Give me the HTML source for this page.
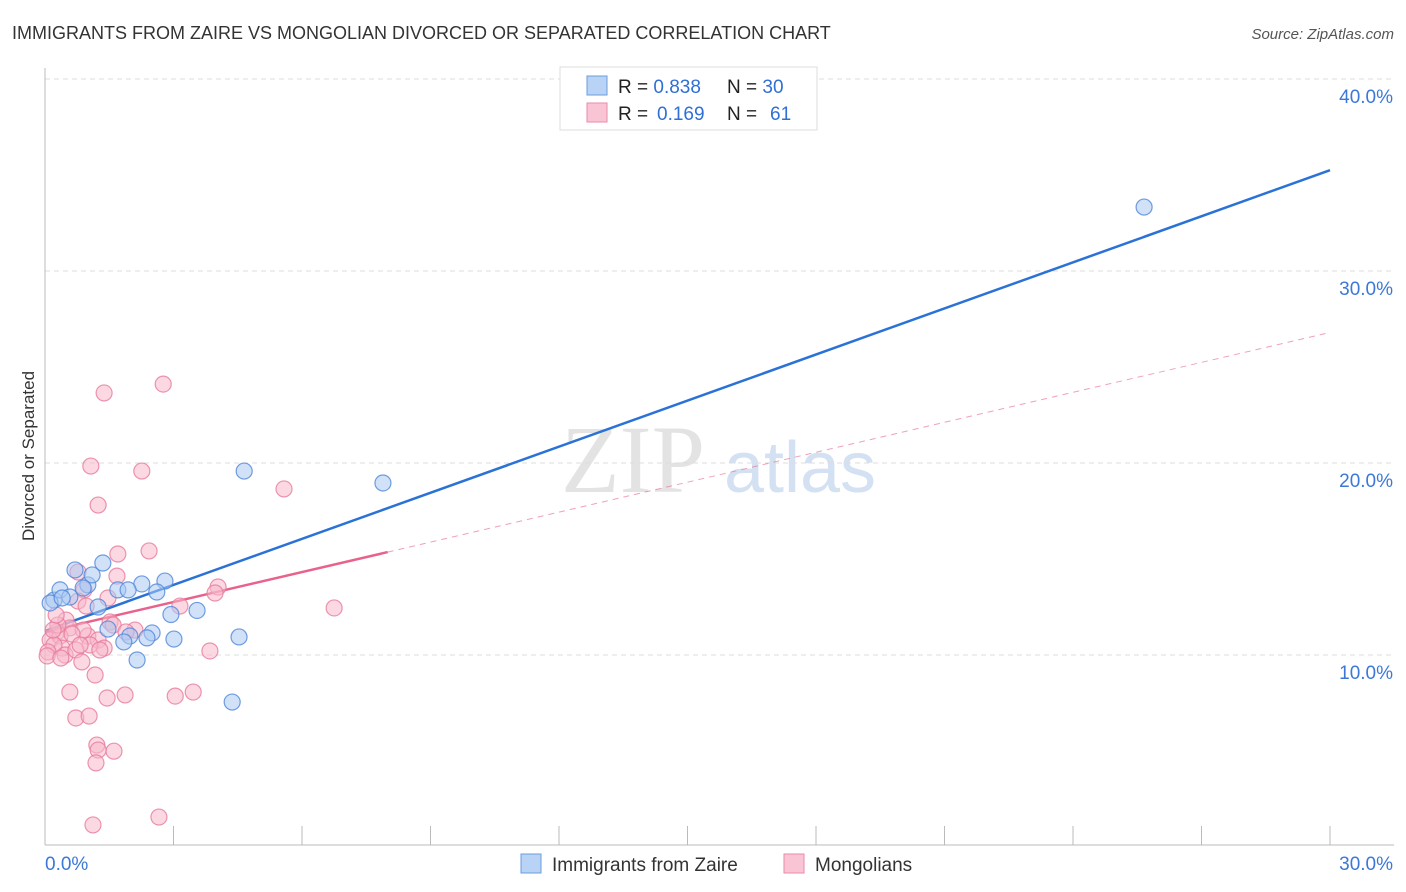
<!DOCTYPE html>
<html><head><meta charset="utf-8">
<style>
html,body{margin:0;padding:0;background:#fff;}
body{width:1406px;height:892px;overflow:hidden;font-family:"Liberation Sans",sans-serif;}
svg{display:block;}
</style></head>
<body>
<svg id="chart" width="1406" height="892" xmlns="http://www.w3.org/2000/svg">
  <text x="12" y="39" font-size="18" fill="#333">IMMIGRANTS FROM ZAIRE VS MONGOLIAN DIVORCED OR SEPARATED CORRELATION CHART</text>
  <text x="1394" y="39" font-size="15" fill="#555" font-style="italic" text-anchor="end">Source: ZipAtlas.com</text>
  <g>
    <text x="633" y="492" font-size="96" fill="#ddd" font-family="Liberation Serif, serif" text-anchor="middle" opacity="0.8">ZIP</text>
    <text x="800" y="492" font-size="72" fill="#c9daf0" text-anchor="middle" opacity="0.8">atlas</text>
  </g>
  <g id="grid"></g>
  <g id="axes"></g>
  <g id="lines"></g>
  <g id="points"></g>
  <text x="34" y="456" font-size="17" fill="#333" text-anchor="middle" transform="rotate(-90 34 456)">Divorced or Separated</text>
  <g>
    <rect x="560" y="67" width="257" height="63" fill="#fff" stroke="#ddd"/>
    <rect x="587" y="76" width="20" height="19" fill="#b8d3f5" stroke="#6b9de0"/>
    <rect x="587" y="103" width="20" height="19" fill="#f9c5d4" stroke="#eb8aa8"/>
    <text x="618" y="93" font-size="19" fill="#222">R = <tspan fill="#2f6fd6">0.838</tspan><tspan x="727">N = </tspan><tspan fill="#2f6fd6">30</tspan></text>
    <text x="618" y="120" font-size="19" fill="#222">R = <tspan fill="#2f6fd6" x="657">0.169</tspan><tspan x="727">N = </tspan><tspan fill="#2f6fd6" x="770">61</tspan></text>
  </g>
  <g>
    <rect x="521" y="854" width="20" height="19" fill="#b8d3f5" stroke="#6b9de0"/>
    <text x="552" y="871" font-size="19" fill="#333">Immigrants from Zaire</text>
    <rect x="784" y="854" width="20" height="19" fill="#f9c5d4" stroke="#eb8aa8"/>
    <text x="815" y="871" font-size="19" fill="#333">Mongolians</text>
  </g>
</svg>
<script>
const yTicks=[10,20,30,40];
const yTickLabels=["10.0%","20.0%","30.0%","40.0%"];
const xTickLabels=["0.0%","30.0%"];
const zaireX=[25.66,4.65,7.89,1.35,0.21,0.35,1.00,0.70,1.10,1.70,2.26,2.80,2.61,1.24,0.58,2.94,3.55,1.47,1.98,2.50,2.38,3.01,1.84,2.15,4.53,4.37,0.12,0.40,0.89,1.94];
const zaireY=[33.33,19.58,18.96,14.79,12.86,13.39,13.65,14.43,14.17,13.39,13.70,13.85,13.28,12.50,13.02,12.11,12.32,11.35,10.99,11.15,10.89,10.83,10.68,9.74,10.94,7.55,12.71,12.97,13.49,13.39];
const mongX=[2.76,1.38,1.07,2.26,5.58,1.24,2.43,1.70,1.68,0.77,0.91,0.77,4.04,3.97,3.15,6.75,1.47,1.52,0.49,0.58,0.28,0.12,0.35,1.00,0.89,1.24,1.38,1.05,0.40,0.21,0.47,0.07,0.72,3.85,0.86,1.17,0.58,1.87,1.45,3.04,3.46,0.72,1.03,1.21,1.61,1.24,1.19,1.12,2.66,1.59,0.30,0.19,0.63,0.96,2.10,0.05,0.37,1.28,0.82,0.26,1.89];
const mongY=[24.11,23.65,19.84,19.58,18.65,17.81,15.42,15.26,14.11,14.32,13.39,12.81,13.54,13.23,12.55,12.45,12.97,11.72,11.82,11.41,11.20,10.78,10.99,10.99,11.30,10.78,10.36,10.52,10.36,10.52,10.00,10.16,10.26,10.21,9.64,8.96,8.07,7.92,7.76,7.86,8.07,6.72,6.82,5.31,4.99,5.05,4.38,1.15,1.56,11.56,11.56,11.30,11.09,12.55,11.30,9.95,9.84,10.26,10.52,12.08,11.20];
const zaireTrend=[11.25,0.80];
const mongTrend=[11.2,0.52];
const mongSolidEnd=8.0;

const NS="http://www.w3.org/2000/svg";
const X=v=>45+v*(1285/30);
const Y=v=>655-(v-10)*19.2;
function mk(tag,attrs,parent){const e=document.createElementNS(NS,tag);for(const k in attrs)e.setAttribute(k,attrs[k]);parent.appendChild(e);return e;}
const grid=document.getElementById('grid'),axes=document.getElementById('axes'),lines=document.getElementById('lines'),pts=document.getElementById('points');
yTicks.forEach((t,i)=>{
  const l=mk('line',{x1:45,x2:1394,y1:Y(t),y2:Y(t),stroke:'#ddd','stroke-dasharray':'5,4'},grid);
  
  
  const tx=mk('text',{x:1393,y:Y(t)+24,'font-size':19,fill:'#3b78d8','text-anchor':'end'},axes);
  tx.textContent=yTickLabels[i];
  
  
});
const la=mk('line',{x1:45,x2:45,y1:68,y2:845,stroke:'#bbb'},axes);


const bx=mk('line',{x1:45,x2:1394,y1:845,y2:845,stroke:'#bbb'},axes);


for(let i=1;i<=10;i++){
  const t=mk('line',{x1:X(i*3),x2:X(i*3),y1:826,y2:845,stroke:'#bbb'},axes);
  
  
}
const xl0=mk('text',{x:45,y:870,'font-size':19,fill:'#3b78d8'},axes);
xl0.textContent=xTickLabels[0];


const xl1=mk('text',{x:1393,y:870,'font-size':19,fill:'#3b78d8','text-anchor':'end'},axes);
xl1.textContent=xTickLabels[1];



function dot(x,y,fill,stroke,name){
  const c=mk('circle',{cx:X(x),cy:Y(y),r:8,fill:fill,'fill-opacity':0.55,stroke:stroke,'stroke-width':1.2,'stroke-opacity':0.8},pts);
  
  
}
mongX.forEach((x,i)=>dot(x,mongY[i],'#f7b8cb','#e77a9c','mongolian-point'));
zaireX.forEach((x,i)=>dot(x,zaireY[i],'#a9c9f2','#4f86d9','zaire-point'));

const bl=mk('line',{x1:X(0),y1:Y(zaireTrend[0]),x2:X(30),y2:Y(zaireTrend[0]+zaireTrend[1]*30),stroke:'#2a72d6','stroke-width':2.5},lines);


const pl=mk('line',{x1:X(0),y1:Y(mongTrend[0]),x2:X(mongSolidEnd),y2:Y(mongTrend[0]+mongTrend[1]*mongSolidEnd),stroke:'#e8628c','stroke-width':2.5},lines);


const pd=mk('line',{x1:X(mongSolidEnd),y1:Y(mongTrend[0]+mongTrend[1]*mongSolidEnd),x2:X(30),y2:Y(mongTrend[0]+mongTrend[1]*30),stroke:'#e8628c','stroke-width':1,'stroke-dasharray':'6,5','stroke-opacity':0.6},lines);


</script>
</body></html>
